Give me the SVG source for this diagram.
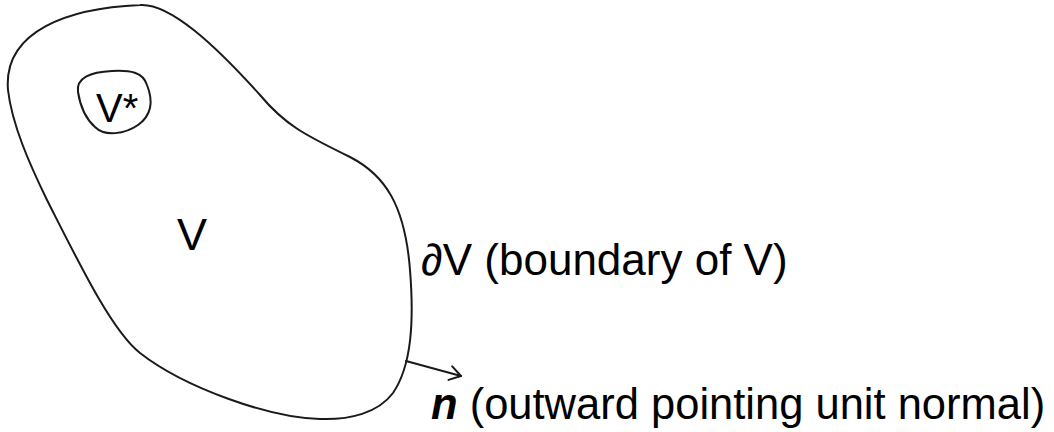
<svg xmlns="http://www.w3.org/2000/svg" width="1054" height="432" viewBox="0 0 1054 432">
<defs>
<style>
.shape{fill:none;stroke:#1a1a1a;stroke-width:2;stroke-linejoin:round;stroke-linecap:round}
.t{font-family:"Liberation Sans",Arial,sans-serif;fill:#000}
</style>
<marker id="ah" markerWidth="16" markerHeight="16" refX="13" refY="8" orient="auto" markerUnits="userSpaceOnUse">
<path d="M2,1 L13,8 L2,15" fill="none" stroke="#1a1a1a" stroke-width="2" stroke-linecap="round" stroke-linejoin="round"/>
</marker>
</defs>
<rect width="1054" height="432" fill="#fff"/>
<g id="region-V">
<path class="shape" d="M 8,90 C 3,30 70,8 140,5 C 170,3 215,45 260,95 C 285,125 305,135 350,157 C 385,175 405,205 410,270 C 414,320 412,365 393,393 C 378,413 350,420 320,419 C 270,418 185,388 140,353 C 112,331 80,265 47,200 C 30,165 12,125 8,90 Z"/>
<text class="t" x="192" y="250" font-size="45" text-anchor="middle">V</text>
</g>
<g id="region-Vstar">
<path class="shape" d="M 78,92 C 76,78 90,72 112,71 C 130,70 143,72 147,85 C 153,100 152,115 138,125 C 125,134 105,137 95,127 C 85,118 80,105 78,92 Z"/>
<text class="t" x="96" y="122" font-size="40">V*</text>
</g>
<g id="label-boundary">
<text class="t" x="421" y="275" font-size="44">∂V (boundary of V)</text>
</g>
<g id="label-normal">
<text class="t" x="431" y="419" font-size="43.5"><tspan font-weight="bold" font-style="italic">n</tspan> (outward pointing unit normal)</text>
</g>
<g id="connectors">
<line class="shape" x1="406" y1="361" x2="461" y2="376" marker-end="url(#ah)"/>
</g>
</svg>
